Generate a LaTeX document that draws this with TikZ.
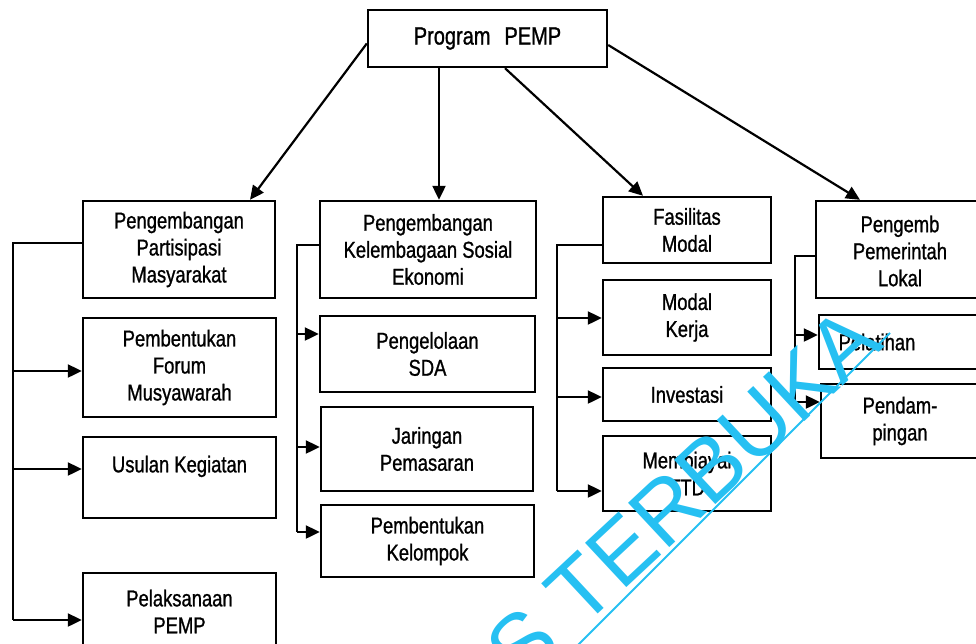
\documentclass[tikz,border=0pt]{standalone}
\usepackage{fontspec}
\setmainfont[FakeStretch=0.8,FakeBold=1]{Liberation Sans}
\newfontfamily\wmfont{Liberation Sans}
\usetikzlibrary{arrows.meta,calc}
\definecolor{wmcol}{RGB}{38,192,242}
\newcommand\mkbox[6]{\node[box,minimum width={(#4-#2)*1pt},minimum height={(#5-#3)*1pt}] (#1) at ({(#2+#4)/2},{(#3+#5)/2}) {#6};}
\begin{document}
\begin{tikzpicture}[x=1pt,y=-1pt,
  box/.style={draw, line width=2.4pt, align=center, inner sep=0pt, font=\fontsize{23}{27}\selectfont},
  lbl/.style={align=center, inner sep=0pt, font=\fontsize{23}{27}\selectfont},
  conn/.style={line width=2.2pt, line join=miter},
  arr/.style={line width=2.2pt, -{Triangle[length=14pt,width=13pt]}},
  wmtext/.style={text=wmcol, inner sep=0pt, font=\wmfont\fontsize{88}{92}\selectfont}]
\useasboundingbox (0,0) rectangle (976,643);
\clip (0,0) rectangle (976,643);

% top
\node[box, font=\fontsize{25}{28}\selectfont, minimum width=239pt, minimum height=57pt] (top) at (487.5,38.5) {Program\hspace{14pt}PEMP};

% column 1
\mkbox{a1}{83}{201}{275}{298}{Pengembangan\\Partisipasi\\Masyarakat}
\mkbox{a2}{83}{318}{276}{417}{Pembentukan\\Forum\\Musyawarah}
\mkbox{a3}{83}{437}{276}{518}{Usulan Kegiatan\\\mbox{}}
\mkbox{a4}{83}{573}{276}{650}{Pelaksanaan\\PEMP}

% column 2
\mkbox{b1}{320}{201}{536}{298}{Pengembangan\\Kelembagaan Sosial\\Ekonomi}
\mkbox{b2}{320}{316}{535}{392}{Pengelolaan\\SDA}
\mkbox{b3}{321}{407}{533}{491}{Jaringan\\Pemasaran}
\mkbox{b4}{321}{505}{534}{577}{Pembentukan\\Kelompok}

% column 3
\mkbox{c1}{603}{197}{771}{263}{Fasilitas\\Modal}
\mkbox{c2}{603}{280}{771}{355}{Modal\\Kerja}
\mkbox{c3}{603}{368}{771}{421}{Investasi}
\mkbox{c4}{603}{436}{771}{511}{Membiayai\\TTD}

% column 4
\mkbox{d1}{816}{201}{984}{298}{}
\mkbox{d2}{819}{315}{984}{369}{}
\mkbox{d3}{821}{384}{984}{458}{}
\node[lbl] (d1t) at (900,251) {Pengemb\\Pemerintah\\Lokal};
\node[lbl] (d2t) at (877,342) {Pelatihan};
\node[lbl] (d3t) at (900,421) {Pendam-\\pingan};

% top connectors
\draw[arr] ($(top.west)+(0,5)$) -- (a1.north -| 250,0);
\draw[arr] (top.south -| 439,0) -- (b1.north -| 439,0);
\draw[arr] (top.south -| 505,0) -- (c1.north -| 643,0);
\draw[arr] (top.east |- 0,45) -- (d1.north -| 860,0);

% column 1 connectors
\coordinate (ja) at (13,243);
\coordinate (ja2) at (13,371);
\coordinate (ja3) at (13,469);
\coordinate (ja4) at (13,620);
\draw[conn] (a1.west |- ja) -- (ja) -- (ja4);
\draw[arr] (ja2) -- (a2.west |- ja2);
\draw[arr] (ja3) -- (a3.west |- ja3);
\draw[arr] (ja4) -- (a4.west |- ja4);

% column 2 connectors
\coordinate (jb) at (297,245);
\coordinate (jb2) at (297,334);
\coordinate (jb3) at (297,447);
\coordinate (jb4) at (297,532);
\draw[conn] (b1.west |- jb) -- (jb) -- (jb4);
\draw[arr] (jb2) -- (b2.west |- jb2);
\draw[arr] (jb3) -- (b3.west |- jb3);
\draw[arr] (jb4) -- (b4.west |- jb4);

% column 3 connectors
\coordinate (jc) at (557,245);
\coordinate (jc2) at (557,318);
\coordinate (jc3) at (557,397);
\coordinate (jc4) at (557,491);
\draw[conn] (c1.west |- jc) -- (jc) -- (jc4);
\draw[arr] (jc2) -- (c2.west |- jc2);
\draw[arr] (jc3) -- (c3.west |- jc3);
\draw[arr] (jc4) -- (c4.west |- jc4);

% column 4 connectors
\coordinate (jd) at (795,256);
\coordinate (jd2) at (795,335);
\coordinate (jd3) at (795,402);
\draw[conn] (d1.west |- jd) -- (jd) -- (jd3);
\draw[arr] (jd2) -- (d2.west |- jd2);
\draw[arr] (jd3) -- (d3.west |- jd3);

% watermark
\node[wmtext, rotate=43, anchor=base east] (wmk) at (886,346) {S TERBUKA};
\coordinate (wmA) at (560,663);
\coordinate (wmB) at (890,333);
\draw[wmcol, line width=1.8pt] (wmA) -- (wmB);
\end{tikzpicture}
\end{document}
